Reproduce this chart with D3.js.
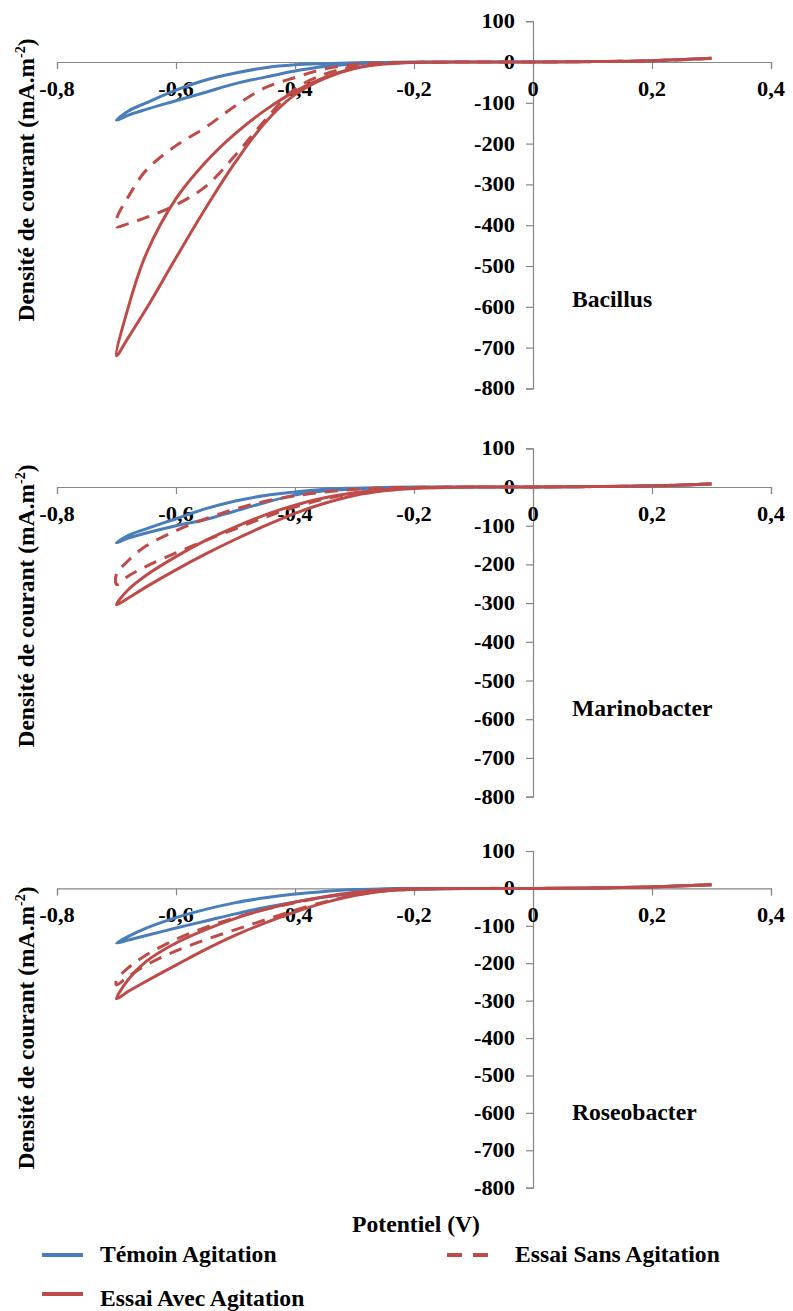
<!DOCTYPE html>
<html><head><meta charset="utf-8">
<script src="https://cdn.jsdelivr.net/npm/d3@7"></script>
<style>
body{margin:0;background:#fff}
svg text{font-family:"Liberation Serif","Times New Roman",Times,serif;font-weight:bold;fill:#000}
</style>
</head><body>
<svg id="c" width="793" height="1311" font-family="Liberation Serif, Times New Roman, serif"></svg>
<script>
// ---- DATA ----
const potentials = [0.3, 0.2, 0.1, 0.0, -0.1, -0.2, -0.25, -0.3, -0.35, -0.4, -0.45, -0.5, -0.55, -0.6, -0.65, -0.68, -0.7];
const xTicks = [-0.8, -0.6, -0.4, -0.2, 0, 0.2, 0.4];
const yTicks = [100, 0, -100, -200, -300, -400, -500, -600, -700, -800];
const panelNames = ["Bacillus", "Marinobacter", "Roseobacter"];
const seriesNames = ["Témoin Agitation", "Essai Sans Agitation", "Essai Avec Agitation"];
const xTitle = "Potentiel (V)";
const yTitle = "Densité de courant (mA.m";

// Bacillus (aller and retour branches, read on the same potentials)
const bacTemoinAller = [9, 3, 1, 0, 0, 0, -1, -2, -4, -7, -14, -27, -44, -69, -100, -120, -143];
const bacTemoinRetour = [9, 3, 1, 0, 0, -1, -2, -5, -11, -22, -37, -53, -74, -95, -116, -130, -143];
const bacSansAller = [9, 3, 1, 0, 0, -1, -2, -6, -17, -38, -63, -107, -160, -205, -265, -330, -385];
const bacSansRetour = [9, 3, 1, 0, 0, -1, -3, -11, -30, -66, -142, -228, -305, -350, -381, -396, -404];
const bacAvecAller = [9, 3, 1, 0, 0, -1, -5, -15, -38, -72, -118, -175, -245, -335, -470, -600, -720];
const bacAvecRetour = [9, 3, 1, 0, 0, -1, -5, -16, -40, -80, -148, -245, -358, -480, -605, -675, -720];

// Marinobacter
const marTemoinAller = [8, 3, 1, 0, 0, 0, -1, -3, -6, -13, -22, -36, -56, -82, -108, -125, -144];
const marTemoinRetour = [8, 3, 1, 0, 0, -1, -2, -5, -10, -21, -40, -62, -84, -100, -119, -132, -144];
const marSansAller = [8, 3, 1, 0, 0, -1, -2, -6, -13, -23, -37, -57, -82, -113, -152, -190, -225];
const marSansRetour = [8, 3, 1, 0, 0, -2, -7, -16, -31, -52, -78, -108, -138, -170, -205, -230, -252];
const marAvecAller = [8, 3, 1, 0, 0, -3, -7, -15, -28, -47, -72, -103, -138, -180, -228, -265, -304];
const marAvecRetour = [8, 3, 1, 0, 0, -4, -10, -22, -42, -68, -100, -135, -173, -214, -258, -287, -304];

// Roseobacter
const rosTemoinAller = [10, 4, 1, 0, 0, 0, -1, -3, -8, -15, -25, -38, -56, -78, -106, -128, -146];
const rosTemoinRetour = [10, 4, 1, 0, 0, -2, -6, -13, -23, -36, -51, -68, -87, -106, -126, -138, -146];
const rosSansAller = [10, 4, 1, 0, 0, -1, -4, -11, -23, -38, -56, -78, -104, -136, -178, -212, -245];
const rosSansRetour = [10, 4, 1, 0, 0, -2, -7, -18, -36, -58, -84, -110, -137, -167, -205, -235, -258];
const rosAvecAller = [10, 4, 1, 0, 0, -1, -4, -11, -22, -37, -56, -80, -110, -146, -195, -243, -295];
const rosAvecRetour = [10, 4, 1, 0, 0, -2, -7, -19, -38, -63, -92, -125, -163, -205, -248, -275, -295];

const panelData = [
  [[bacTemoinAller, bacTemoinRetour], [bacSansAller, bacSansRetour], [bacAvecAller, bacAvecRetour]],
  [[marTemoinAller, marTemoinRetour], [marSansAller, marSansRetour], [marAvecAller, marAvecRetour]],
  [[rosTemoinAller, rosTemoinRetour], [rosSansAller, rosSansRetour], [rosAvecAller, rosAvecRetour]]
];

// ---- LAYOUT / STYLE ----
const panelsLayout = [
  {top: 21.2, bottom: 388.4, labelY: 307, titleY: 180},
  {top: 448.3, bottom: 796.6, labelY: 716, titleY: 606},
  {top: 851, bottom: 1187.7, labelY: 1120, titleY: 1028}
];
const colors = ["#4A7EBB", "#BE4B48", "#BE4B48"];
const dashes = [null, "13,9", null];
const drawOrder = [0, 1, 2];
const axisColor = "#868686";

const svg = d3.select("#c");
const x = d3.scaleLinear().domain([-0.8, 0.4]).range([57, 771]);
const fmtX = v => v === 0 ? "0" : d3.format(".1f")(v).replace(".", ",").replace("−", "-");

function stretch(sel, f) {
  sel.each(function() {
    const len = this.getComputedTextLength();
    d3.select(this).attr("textLength", len * f).attr("lengthAdjust", "spacingAndGlyphs");
  });
}

const line = d3.line().x(d => x(d[0])).curve(d3.curveCatmullRom.alpha(0.5));

panelsLayout.forEach((L, p) => {
  const y = d3.scaleLinear().domain([-800, 100]).range([L.bottom, L.top]);
  const g = svg.append("g");

  const xa = g.append("g").attr("transform", `translate(0,${y(0)})`)
    .call(d3.axisBottom(x).tickValues(xTicks).tickSize(7).tickSizeOuter(7).tickFormat(""));
  xa.selectAll("path,line").attr("stroke", axisColor).attr("stroke-width", 1.2);
  const ya = g.append("g").attr("transform", `translate(${x(0)},0)`)
    .call(d3.axisLeft(y).tickValues(yTicks).tickSize(7).tickSizeOuter(7).tickFormat(""));
  ya.selectAll("path,line").attr("stroke", axisColor).attr("stroke-width", 1.2);

  const xl = g.selectAll(".xl").data(xTicks).join("text")
    .attr("x", d => x(d)).attr("y", y(0) + 34)
    .attr("text-anchor", "middle").attr("font-size", 20).text(fmtX);
  stretch(xl, 1.12);
  const yl = g.selectAll(".yl").data(yTicks).join("text")
    .attr("x", x(0) - 18).attr("y", d => y(d) + 7)
    .attr("text-anchor", "end").attr("font-size", 20).text(d => d3.format("d")(d).replace("−", "-"));
  stretch(yl, 1.12);

  drawOrder.forEach(s => {
    const [aller, retour] = panelData[p][s];
    const pts = potentials.map((e, i) => [e, aller[i]]);
    const back = potentials.map((e, i) => [e, retour[i]]).reverse();
    if (back[0][1] === pts[pts.length - 1][1]) back.shift();
    const all = pts.concat(back);
    g.append("path")
      .attr("d", line.y(d => y(d[1]))(all))
      .attr("fill", "none")
      .attr("stroke", colors[s])
      .attr("stroke-width", 3)
      .attr("stroke-linejoin", "round")
      .attr("stroke-dasharray", dashes[s]);
  });

  const pl = g.append("text").attr("x", 572).attr("y", L.labelY).attr("font-size", 22.5).text(panelNames[p]);
  stretch(pl, 1.05);

  const yt = g.append("text")
    .attr("transform", `translate(34,${L.titleY}) rotate(-90)`)
    .attr("text-anchor", "middle").attr("font-size", 23.5);
  yt.append("tspan").text(yTitle);
  yt.append("tspan").attr("font-size", 14).attr("dy", -9).text("-2");
  yt.append("tspan").attr("dy", 9).text(")");
});

const xt = svg.append("text").attr("x", 416).attr("y", 1232).attr("text-anchor", "middle")
  .attr("font-size", 22.5).text(xTitle);
stretch(xt, 1.05);

const legendItems = [
  {s: 0, lx: 42, ly: 1255, tx: 100, ty: 1262},
  {s: 1, lx: 447, ly: 1255, tx: 515, ty: 1262},
  {s: 2, lx: 42, ly: 1294, tx: 100, ty: 1306}
];
legendItems.forEach(it => {
  svg.append("line").attr("x1", it.lx).attr("x2", it.lx + 41).attr("y1", it.ly).attr("y2", it.ly)
    .attr("stroke", colors[it.s]).attr("stroke-width", 4)
    .attr("stroke-dasharray", it.s === 1 ? "15,11" : null);
  const t = svg.append("text").attr("x", it.tx).attr("y", it.ty).attr("font-size", 22.5).text(seriesNames[it.s]);
  stretch(t, 1.05);
});
</script>
</body></html>
